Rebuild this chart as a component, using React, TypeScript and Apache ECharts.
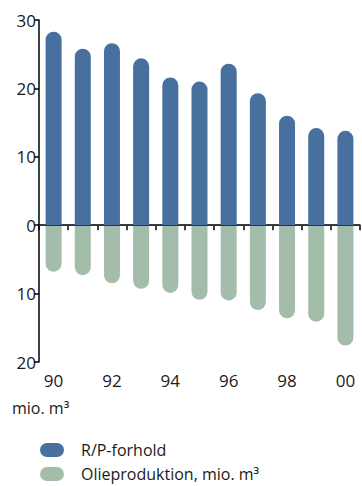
import React, { useEffect, useRef } from "react";
import * as echarts from "echarts";

const years = ["90", "91", "92", "93", "94", "95", "96", "97", "98", "99", "00"];
const rpRatio = [28.3, 25.8, 26.6, 24.4, 21.6, 21.0, 23.6, 19.3, 16.0, 14.2, 13.8];
const oilProduction = [6.8, 7.3, 8.5, 9.3, 9.9, 10.9, 11.0, 12.4, 13.6, 14.1, 17.6];
const seriesNames = ["R/P-forhold", "Olieproduktion, mio. m³"];
const unitLabel = "mio. m³";

const FONT = "'Open Sans', sans-serif";
const BLUE = "#47709f";
const GREEN = "#a4bdab";

export default function App() {
  const ref = useRef<HTMLDivElement>(null);
  useEffect(() => {
    if (!ref.current) return;
    const chart = echarts.init(ref.current, null, { renderer: "svg" });
    chart.setOption({
      animation: false,
      grid: { left: 39, right: 2, top: 20, bottom: 124 },
      legend: {
        orient: "vertical",
        left: 40,
        top: 442,
        padding: 0,
        itemWidth: 24,
        itemHeight: 14,
        itemGap: 8,
        icon: "path://M7,0 H17 A7,7 0 0 1 17,14 H7 A7,7 0 0 1 7,0 Z",
        textStyle: { fontFamily: FONT, fontSize: 16, lineHeight: 16, color: "#1a1a1a", padding: [0, 0, 0, 12] },
        data: seriesNames,
      },
      graphic: [
        {
          type: "text",
          left: 12,
          top: 400,
          style: { text: unitLabel, fontFamily: FONT, fontSize: 16, fill: "#1a1a1a" },
        },
      ],
      xAxis: {
        type: "category",
        data: years,
        boundaryGap: true,
        axisLine: { lineStyle: { color: "#000", width: 1.5 } },
        axisTick: { show: true, interval: 0, length: 5, lineStyle: { color: "#000", width: 1.5 } },
        axisLabel: { interval: 1, fontFamily: FONT, fontSize: 17, color: "#1a1a1a", margin: 10 },
      },
      yAxis: {
        type: "value",
        min: -20,
        max: 30,
        interval: 10,
        axisLine: { show: true, lineStyle: { color: "#000", width: 1.5 } },
        axisTick: { show: true, length: 5, lineStyle: { color: "#000", width: 1.5 } },
        splitLine: { show: false },
        axisLabel: {
          fontFamily: FONT,
          fontSize: 17,
          color: "#1a1a1a",
          margin: 3,
          formatter: (v: number) => String(Math.abs(v)),
        },
      },
      series: [
        {
          name: seriesNames[0],
          type: "bar",
          data: rpRatio,
          barWidth: 16,
          barGap: "-100%",
          itemStyle: { color: BLUE, borderRadius: [8, 8, 0, 0] },
          markLine: {
            silent: true,
            symbol: "none",
            label: { show: false },
            lineStyle: { color: "#333", width: 1, type: "solid" },
            data: [{ yAxis: 0 }],
            z: 10,
          },
        },
        {
          name: seriesNames[1],
          type: "bar",
          data: oilProduction.map((v) => -v),
          barWidth: 16,
          itemStyle: { color: GREEN, borderRadius: [0, 0, 8, 8] },
        },
      ],
    });
    return () => chart.dispose();
  }, []);
  return <div ref={ref} style={{ width: 362, height: 486, position: "absolute", left: 0, top: 0 }} />;
}
